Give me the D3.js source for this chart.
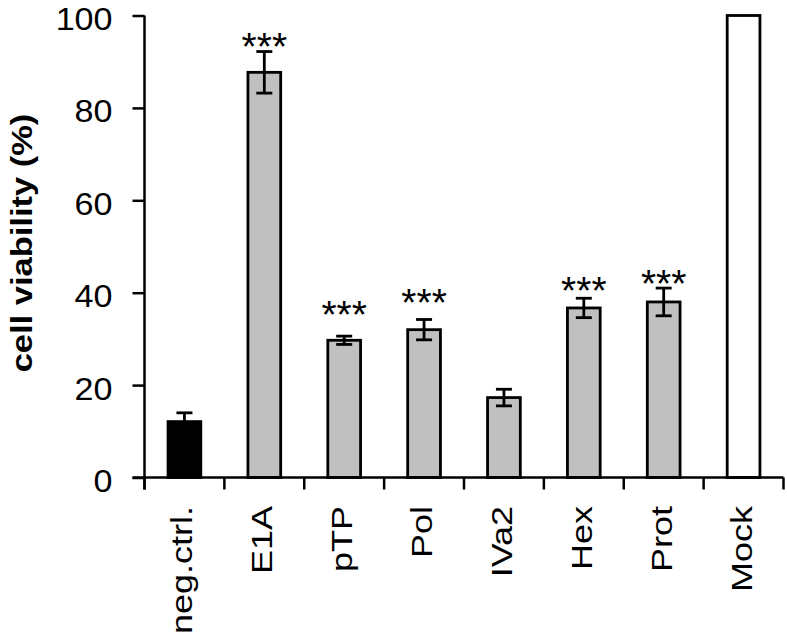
<!DOCTYPE html>
<html>
<head>
<meta charset="utf-8">
<script src="https://cdn.jsdelivr.net/npm/d3@7"></script>
<style>
  body { margin: 0; background: #fff; }
  svg { display: block; font-family: "Liberation Sans", Arial, sans-serif; }
</style>
</head>
<body>
<svg width="787" height="634"></svg>
<script>
// data
var categories = ["neg.ctrl.", "E1A", "pTP", "Pol", "IVa2", "Hex", "Prot", "Mock"];
var values = [12.1, 87.7, 29.7, 32.0, 17.3, 36.7, 38.0, 100];
var errors = [1.9, 4.5, 0.9, 2.2, 1.8, 2.1, 3.0, 0];
var fills = ["#000000", "#c0c0c0", "#c0c0c0", "#c0c0c0", "#c0c0c0", "#c0c0c0", "#c0c0c0", "#ffffff"];
// "***" marks, placed at these heights (in % units)
var starCats = ["E1A", "pTP", "Pol", "Hex", "Prot"];
var starAt = [95.6, 37.7, 40.2, 42.7, 44.2];
var yTicks = [0, 20, 40, 60, 80, 100];

var svg = d3.select("svg");
var plotLeft = 144.5, plotRight = 783.5, plotTop = 15.5, plotBottom = 477.5;

var x = d3.scaleBand()
    .domain(categories)
    .range([plotLeft, plotRight])
    .padding(0);

var y = d3.scaleLinear()
    .domain([0, 100])
    .range([plotBottom, plotTop]);

var barW = x.bandwidth() * 0.41;
var data = categories.map((c, i) => ({ cat: c, v: values[i], e: errors[i], fill: fills[i] }));

// bars
svg.append("g")
    .selectAll("rect")
    .data(data)
    .enter().append("rect")
    .attr("x", d => x(d.cat) + x.bandwidth() / 2 - barW / 2)
    .attr("y", d => y(d.v))
    .attr("width", barW)
    .attr("height", d => y(0) - y(d.v))
    .attr("fill", d => d.fill)
    .attr("stroke", "#000")
    .attr("stroke-width", 2.8);

// error bars
var err = svg.append("g")
    .attr("stroke", "#000")
    .attr("stroke-width", 2.8)
    .selectAll("g")
    .data(data.filter(d => d.e > 0))
    .enter().append("g")
    .attr("transform", d => "translate(" + (x(d.cat) + x.bandwidth() / 2) + ",0)");
err.append("line")
    .attr("y1", d => y(d.v + d.e))
    .attr("y2", d => y(Math.max(0, d.v - d.e)));
err.append("line")
    .attr("x1", -8).attr("x2", 8)
    .attr("y1", d => y(d.v + d.e)).attr("y2", d => y(d.v + d.e));
err.append("line")
    .attr("x1", -8).attr("x2", 8)
    .attr("y1", d => y(d.v - d.e)).attr("y2", d => y(d.v - d.e))
    .attr("display", d => d.fill === "#000000" ? "none" : null);

// significance stars
svg.append("g")
    .selectAll("text")
    .data(starCats)
    .enter().append("text")
    .attr("x", d => x(d) + x.bandwidth() / 2)
    .attr("y", (d, i) => y(starAt[i]))
    .attr("dy", "0.62em")
    .attr("text-anchor", "middle")
    .style("font-size", "39px")
    .text("***");

// y axis
var yAxis = svg.append("g")
    .attr("transform", "translate(" + plotLeft + ",0)")
    .call(d3.axisLeft(y).tickValues(yTicks).tickSize(12).tickSizeOuter(0).tickPadding(20));
yAxis.select(".domain").remove();
yAxis.selectAll(".tick line").attr("stroke", "#000").attr("stroke-width", 2.5);
yAxis.selectAll(".tick text")
    .attr("fill", "#000")
    .style("font-size", "31px")
    .attr("dy", "0.45em")
    .attr("transform", function () {
        var tx = +d3.select(this).attr("x");
        return "translate(" + tx + ",0) scale(1.1,1) translate(" + (-tx) + ",0)";
    });
svg.append("line")
    .attr("x1", plotLeft).attr("x2", plotLeft)
    .attr("y1", y(100)).attr("y2", plotBottom + 12)
    .attr("stroke", "#000").attr("stroke-width", 2.5);

// x axis line and boundary ticks
svg.append("line")
    .attr("x1", plotLeft - 12).attr("x2", plotRight)
    .attr("y1", plotBottom).attr("y2", plotBottom)
    .attr("stroke", "#000").attr("stroke-width", 2.5);
var edges = categories.map(c => x(c)).concat([plotRight]);
svg.append("g")
    .selectAll("line")
    .data(edges)
    .enter().append("line")
    .attr("x1", d => d).attr("x2", d => d)
    .attr("y1", plotBottom).attr("y2", plotBottom + 12)
    .attr("stroke", "#000").attr("stroke-width", 2.5);

// category labels (rotated)
svg.append("g")
    .selectAll("text")
    .data(categories)
    .enter().append("text")
    .attr("transform", d => "translate(" + (x(d) + x.bandwidth() / 2 + 8) + ",506) rotate(-90) scale(1.2,1)")
    .attr("text-anchor", "end")
    .style("font-size", "30px")
    .text(d => d);

// y label
svg.append("text")
    .attr("transform", "translate(32,243) rotate(-90) scale(1.15,1)")
    .attr("text-anchor", "middle")
    .style("font-size", "30px")
    .style("font-weight", "bold")
    .text("cell viability (%)");
</script>
</body>
</html>
